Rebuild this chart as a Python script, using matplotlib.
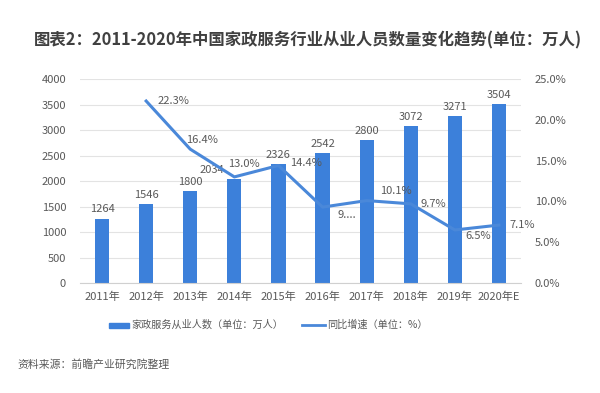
import matplotlib
matplotlib.use("Agg")
import matplotlib.pyplot as plt
import numpy as np
from matplotlib.patches import Rectangle
from matplotlib.lines import Line2D

plt.rcParams['font.family'] = ['Noto Sans CJK SC', 'DejaVu Sans']

years = ["2011年", "2012年", "2013年", "2014年", "2015年", "2016年", "2017年", "2018年", "2019年", "2020年E"]
workers = [1264, 1546, 1800, 2034, 2326, 2542, 2800, 3072, 3271, 3504]
growth = [None, 22.3, 16.4, 13.0, 14.4, 9.3, 10.1, 9.7, 6.5, 7.1]
growth_labels = ["", "22.3%", "16.4%", "13.0%", "14.4%", "9....", "10.1%", "9.7%", "6.5%", "7.1%"]

bar_color = "#3C80DA"
line_color = "#4A88D9"
text_color = "#595959"

fig = plt.figure(figsize=(6, 3.93), dpi=100)
ax = fig.add_axes([80/600, 1-283/393, (521-80)/600, (283-79)/393])
x = np.arange(len(years))
ax.bar(x, workers, width=0.32, color=bar_color, zorder=2)
ax.set_ylim(0, 4000)
ax.set_yticks(range(0, 4001, 500))
ax.set_xlim(-0.5, len(years)-0.5)
ax.set_xticks(x)
ax.set_xticklabels(years)
ax.grid(axis='y', color='#E3E3E3', linewidth=0.8, zorder=0)
for s in ['top', 'right', 'left']:
    ax.spines[s].set_visible(False)
ax.spines['bottom'].set_color('#D0D0D0')
ax.tick_params(axis='both', length=0, labelsize=8, colors=text_color)
ax.tick_params(axis='y', pad=10)
ax.tick_params(axis='x', pad=6)
bar_dx = {3: -0.5}
for xi, v in zip(x, workers):
    ax.text(xi + bar_dx.get(xi, 0), v + 90, str(v), ha='center', va='bottom', fontsize=8, color=text_color)

ax2 = ax.twinx()
gx = [xi for xi, g in zip(x, growth) if g is not None]
gy = [g for g in growth if g is not None]
ax2.plot(gx, gy, color=line_color, linewidth=2.2, zorder=3)
ax2.set_ylim(0, 25)
ax2.set_yticks(np.arange(0, 25.1, 5))
ax2.set_yticklabels([f"{v:.1f}%" for v in np.arange(0, 25.1, 5)])
for s in ['top', 'right', 'left', 'bottom']:
    ax2.spines[s].set_visible(False)
ax2.tick_params(axis='y', length=0, labelsize=8, colors=text_color, pad=10)

offsets = {1: (0.25, 0.0), 2: (-0.1, 1.1), 3: (-0.14, 1.6),
           4: (0.27, 0.3), 5: (0.34, -1.0), 6: (0.3, 1.2),
           7: (0.23, 0.0), 8: (0.25, -0.7), 9: (0.23, 0.0)}
for i, lab in enumerate(growth_labels):
    if growth[i] is None:
        continue
    dx, dy = offsets[i]
    ax2.text(i + dx, growth[i] + dy, lab, ha='left', va='center', fontsize=8, color=text_color, zorder=4)

fig.text(0.513, 1-40/393, "图表2：2011-2020年中国家政服务行业从业人员数量变化趋势(单位：万人)",
         ha='center', va='center', fontsize=11.8, fontweight='bold', color='#404040')

# legend
fig.patches.append(Rectangle((109/600, 1-328/393), 20/600, 5/393, transform=fig.transFigure,
                             color=bar_color, figure=fig))
fig.text(131/600, 1-325/393, "家政服务从业人数（单位：万人）", ha='left', va='center', fontsize=7.3, color=text_color)
fig.lines.append(Line2D([302/600, 325/600], [1-325/393, 1-325/393], transform=fig.transFigure,
                        color=line_color, linewidth=2, figure=fig))
fig.text(327/600, 1-325/393, "同比增速（单位：%）", ha='left', va='center', fontsize=7.3, color=text_color)

fig.text(17/600, 1-364/393, "资料来源：前瞻产业研究院整理", ha='left', va='center', fontsize=7.8, color=text_color)

fig.savefig("out.png", dpi=100, facecolor='white')
